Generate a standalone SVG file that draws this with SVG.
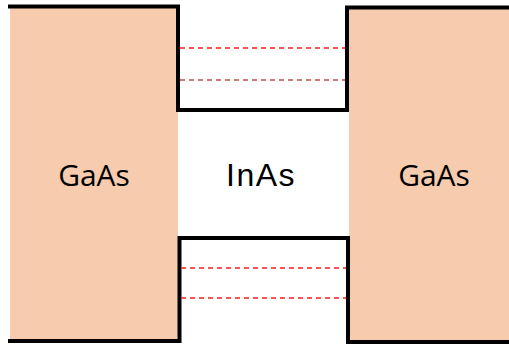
<svg xmlns="http://www.w3.org/2000/svg" width="509" height="346" viewBox="0 0 509 346">
<style>
.fill{fill:#F7CBAD;stroke:none}
.edge{fill:none;stroke:#000;stroke-width:4;stroke-linejoin:miter;stroke-linecap:square}
.dash{fill:none;stroke:#FF1A1A;stroke-width:1.3;stroke-dasharray:5,4}
.dash2{fill:none;stroke:#C0504D;stroke-width:1.5;stroke-dasharray:5,4}
.lbl{font-family:"Open Sans","Liberation Sans",sans-serif;font-size:30px;fill:#000;text-anchor:middle}
.lbl2{font-family:"Liberation Sans",Arial,sans-serif;font-size:32px;fill:#000;text-anchor:middle;letter-spacing:1.5px}
</style>
<g id="left-gaas">
<rect class="fill" x="10" y="7" width="168" height="334"/>
<text class="lbl" x="94" y="186">GaAs</text>
</g>
<g id="right-gaas">
<rect class="fill" x="349" y="8" width="160" height="334"/>
<text class="lbl" x="434" y="186">GaAs</text>
</g>
<g id="inas">
<text class="lbl2" x="261" y="186">InAs</text>
</g>
<g id="connectors">
<path class="edge" d="M10,6.5 H178 V110 H347 V7.5 H509"/>
<path class="edge" d="M10,341 H179.5 V238 H348 V342 H509"/>
<line class="dash" x1="180" y1="48" x2="345" y2="48"/>
<line class="dash2" x1="180" y1="80" x2="345" y2="80"/>
<line class="dash" x1="181" y1="268" x2="346" y2="268"/>
<line class="dash" x1="181" y1="298" x2="346" y2="298"/>
</g>
</svg>
